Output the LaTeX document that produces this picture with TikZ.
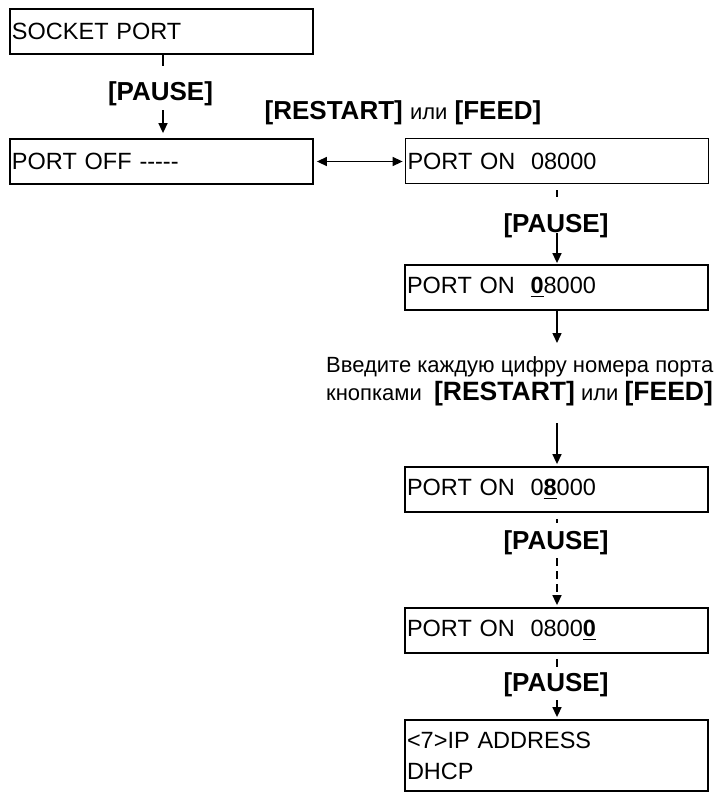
\documentclass[tikz,border=0pt]{standalone}
\usepackage{fontspec}
\setmainfont{Liberation Sans}
\usetikzlibrary{arrows.meta}
\newsavebox\digbox
\newcommand\udig[1]{\sbox\digbox{\bfseries #1}\rlap{\rule[-3.5pt]{\wd\digbox}{1.8pt}}\usebox\digbox}
\begin{document}
\begin{tikzpicture}[x=1pt,y=-1pt,
  lcd/.style={draw, line width=1.8pt, rectangle, minimum width=303pt, minimum height=45pt,
    text width=299pt, inner xsep=2pt, inner ysep=0pt, align=left,
    font=\fontsize{23.5}{31}\selectfont},
  keylbl/.style={font=\fontsize{26}{30}\selectfont\bfseries, inner sep=0pt},
  ln/.style={line width=1.5pt},
  tip/.style={Triangle[length=10pt,width=9pt]},
  arr/.style={line width=1.5pt, -{Triangle[length=10pt,width=9pt]}},
  dsh/.style={arr, dash pattern=on 8pt off 5pt}]
\useasboundingbox (0,0) rectangle (718,796);

% boxes
\node[lcd] (b1) at (161.5,31.5) {SOCKET PORT};
\node[lcd] (b2) at (161.5,161.5) {PORT OFF -{}-{}-{}-{}-};
\node[lcd] (b3) at (557,161) {PORT ON~~08000};
\node[lcd] (b4) at (556.5,287.5) {PORT ON~~\udig{0}8000};
\node[lcd] (b5) at (556.5,489.5) {PORT ON~~0\udig{8}000};
\node[lcd] (b6) at (556.5,630.5) {PORT ON~~0800\udig{0}};
\node[lcd, minimum height=71pt] (b7) at (556.5,755.5) {<7>IP ADDRESS\\DHCP};

% labels
\node[keylbl] (p1) at (160.5,94) {[PAUSE]};
\node[inner sep=0pt] (rf) at (403,113) {\fontsize{26}{30}\selectfont\bfseries [RESTART] {\mdseries\fontsize{22}{30}\selectfont или} [FEED]};
\node[keylbl] (p2) at (556,226) {[PAUSE]};
\node[anchor=west, align=left, inner sep=0pt, font=\fontsize{22}{28}\selectfont] (txt) at (326,381)
  {Введите каждую цифру номера порта\\кнопками~ {\fontsize{26.5}{28}\selectfont\bfseries [RESTART]} или {\fontsize{26.5}{28}\selectfont\bfseries [FEED]}};
\node[keylbl] (p3) at (556,543) {[PAUSE]};
\node[keylbl] (p4) at (556,685) {[PAUSE]};

% coordinates
\coordinate (s1) at (163,66);
\coordinate (a1) at (163,110);
\coordinate (s2) at (557,197);
\coordinate (a2) at (557,233);
\coordinate (a3) at (557,343);
\coordinate (a4) at (557,423);
\coordinate (s3) at (557,523);
\coordinate (a5) at (557,558);
\coordinate (s4) at (557,667);
\coordinate (a6) at (557,700);

% connectors
\draw[ln] (b1.south -| s1) -- (s1);
\draw[arr, shorten >=5pt] (a1) -- (b2.north -| a1);
\draw[line width=1.5pt, {Triangle[length=10pt,width=9pt]}-{Triangle[length=10pt,width=9pt]}, shorten <=3pt, shorten >=2pt] (b2.east) -- (b3.west |- b2.east);
\draw[ln, shorten <=6pt] (b3.south -| s2) -- (s2);
\draw[arr, shorten >=1pt] (a2) -- (b4.north -| a2);
\draw[arr] (b4.south -| a3) -- (a3);
\draw[arr, shorten >=2pt] (a4) -- (b5.north -| a4);
\draw[ln, shorten <=6pt] (b5.south -| s3) -- (s3);
\draw[dsh, shorten >=2pt] (a5) -- (b6.north -| a5);
\draw[ln, shorten <=5pt] (b6.south -| s4) -- (s4);
\draw[arr, shorten >=2pt] (a6) -- (b7.north -| a6);
\end{tikzpicture}
\end{document}
